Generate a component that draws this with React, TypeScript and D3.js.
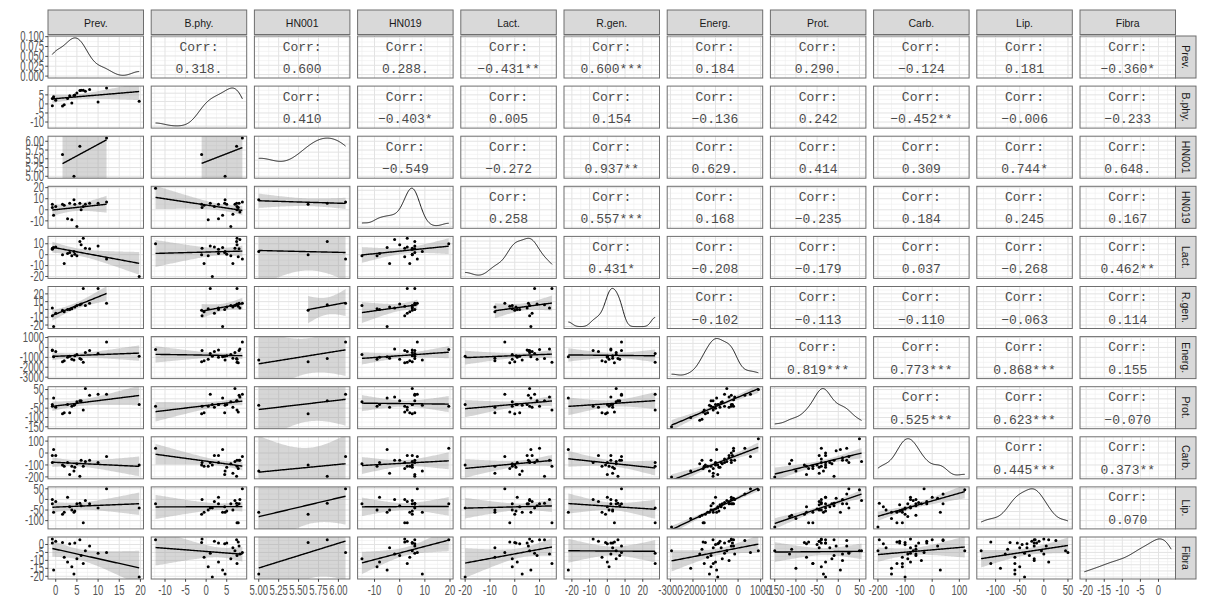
import * as d3 from 'd3';

type V = number | null;

const names = ['Prev.', 'B.phy.', 'HN001', 'HN019', 'Lact.', 'R.gen.', 'Energ.', 'Prot.', 'Carb.', 'Lip.', 'Fibra'];

// one entry per study; null = not reported
const prev: V[] = [-0.8, -0.8, -0.5, 1.6, 2.0, 2.8, 3.3, 3.8, 4.3, 4.5, 5.0, 5.7, 6.0, 6.5, 7.0, 8.0, 10.0, 12.0, 19.7, 0.0,
  null, null, null, null,
  null, null, null, null, null, null, null, null, null, null, null, null, null, null];
const bphy: V[] = [3.0, -1.0, 4.0, -1.1, -0.5, 3.0, 4.5, 0.5, 4.6, 5.0, 6.0, 7.4, 7.5, 7.5, 7.0, 8.0, 1.0, 8.8, 1.5, 2.0,
  -12.3, 6.5, 7.8, 8.2,
  null, null, null, null, null, null, null, null, null, null, null, null, null, null];
const hn001: V[] = [null, null, null, 5.62, null, null, null, null, 5.0, null, null, 5.86, null, null, null, null, null, 6.09, null, null,
  null, null, null, null,
  null, null, null, null, null, null, null, null, null, null, null, null, null, null];
const hn019: V[] = [5, 2, -5, 5, 4, -8, 6, -9, 9, 5, -15, 6, 0, 3, 5, 6, 6, 7, null, 3,
  19.5, -4, 2, -2,
  null, null, null, null, null, null, null, null, null, null, null, null, null, null];
const lact: V[] = [5, 6, 6.5, 0, -8, 1, 2, -1, 3, 0.5, -1, 12, 9, 15, 6, 5.5, 8, -4, -20, 7,
  10, -8, -2, 14,
  null, null, null, null, null, null, null, null, null, null, null, null, null, null];
const rgen: V[] = [2, -8, -22, -1, -3, 0, 0, 1, null, 3, 5, 6, 7, 27, 5, 8, 27, 8, null, -5,
  null, 3, 4, 2,
  null, null, null, null, null, null, null, null, null, null, null, null, null, null];
const energ: V[] = [-250, -300, -950, -1450, -1350, -1000, -900, -1200, -1270, -850, -700, -1110, -1200, -1500, -500, -300, -600, 550, -900, -400,
  -200, -1100, -1550, -150,
  -2950, -2100, -1700, -1600, -1100, -1000, -800, -750, -600, -400, -300, -200, 300, 900];
const prot: V[] = [-30, -40, 5, -80, -75, -30, -75, -40, -35, -30, -15, -10, -10, -60, 55, 20, 25, 25, -30, -45,
  -40, -45, -70, 10,
  -150, -100, -115, -110, -60, -50, -45, -20, -40, 10, -30, -5, 20, 50];
const carb: V[] = [-20, -80, 30, -100, -110, -80, -180, -110, -150, -120, -90, -195, -60, -110, -70, -60, -80, -30, -100, -20,
  40, -170, -130, -60,
  -200, -150, -90, -60, -130, -100, -120, -80, -50, -40, 0, 20, 40, 120];
const lip: V[] = [-20, 0, -60, -70, -60, 10, -35, -50, -60, -55, -20, -18, -30, -110, -5, -20, -40, 50, -40, -10,
  -20, -50, -110, 0,
  -130, -90, -80, -75, -60, -45, -25, -35, -15, -20, 10, 5, 25, 45];
const fibra: V[] = [1, 3.5, -16, 1.3, -8, -11, 0.5, -14, -18.5, 1, -9, 3, -7, -12, -4, -1, -5.5, -5, -20.5, 2,
  3, -2, 1.5, -6,
  -4, -15, -6, -3, -12, 0, 2, -2, 1, -10, 3, -1, 2.5, -4];

const prevTicks = [0, 5, 10, 15, 20];
const bphyTicks = [-10, -5, 0, 5];
const hn001Ticks = [5, 5.25, 5.5, 5.75, 6];
const hn019Ticks = [-10, 0, 10, 20];
const lactTicks = [-20, -10, 0, 10];
const rgenTicks = [-20, -10, 0, 10, 20];
const energTicks = [-3000, -2000, -1000, 0, 1000];
const protTicks = [-150, -100, -50, 0, 50];
const carbTicks = [-200, -100, 0, 100];
const lipTicks = [-100, -50, 0, 50];
const fibraTicks = [-20, -15, -10, -5, 0];
const densityTicks = [0, 0.025, 0.05, 0.075, 0.1];

// upper triangle labels, row i holds columns i+1..10
const corrLabels = [
  ['0.318.', '0.600', '0.288.', '−0.431**', '0.600***', '0.184', '0.290.', '−0.124', '0.181', '−0.360*'],
  ['0.410', '−0.403*', '0.005', '0.154', '−0.136', '0.242', '−0.452**', '−0.006', '−0.233'],
  ['−0.549', '−0.272', '0.937**', '0.629.', '0.414', '0.309', '0.744*', '0.648.'],
  ['0.258', '0.557***', '0.168', '−0.235', '0.184', '0.245', '0.167'],
  ['0.431*', '−0.208', '−0.179', '0.037', '−0.268', '0.462**'],
  ['−0.102', '−0.113', '−0.110', '−0.063', '0.114'],
  ['0.819***', '0.773***', '0.868***', '0.155'],
  ['0.525***', '0.623***', '−0.070'],
  ['0.445***', '0.373**'],
  ['0.070'],
];

const cols = [prev, bphy, hn001, hn019, lact, rgen, energ, prot, carb, lip, fibra];
const ticks = [prevTicks, bphyTicks, hn001Ticks, hn019Ticks, lactTicks, rgenTicks, energTicks, protTicks, carbTicks, lipTicks, fibraTicks];
const digits = [0, 0, 2, 0, 0, 0, 0, 0, 0, 0, 0];

const X0 = 48, DX = 103.2, PW = 95.5;
const Y0 = 36, DY = 50.1, PH = 42;

const expand = (e: number[]) => {
  const r = e[1] - e[0];
  return [e[0] - 0.05 * r, e[1] + 0.05 * r];
};

const minors = (t: number[], dom: number[]) => {
  const step = t[1] - t[0];
  const out: number[] = [];
  for (let v = t[0] - step / 2; v <= t[t.length - 1] + step / 2 + 1e-9; v += step) {
    if (v >= dom[0] && v <= dom[1]) out.push(v);
  }
  return out;
};

function tq(df: number) {
  const z = 1.959964;
  return z + (z ** 3 + z) / (4 * df) + (5 * z ** 5 + 16 * z ** 3 + 3 * z) / (96 * df * df) +
    (3 * z ** 7 + 19 * z ** 5 + 17 * z ** 3 - 15 * z) / (384 * df ** 3);
}

function kde(vals: number[]) {
  const s = vals.slice().sort(d3.ascending);
  const sd = d3.deviation(s) || 1;
  const iqr = (d3.quantileSorted(s, 0.75)! - d3.quantileSorted(s, 0.25)!) / 1.34;
  const bw = 0.9 * Math.min(sd, iqr > 0 ? iqr : sd) * Math.pow(s.length, -0.2);
  const [lo, hi] = d3.extent(s) as number[];
  return d3.range(200).map(k => {
    const x = lo + (hi - lo) * k / 199;
    const d = d3.mean(s, v => Math.exp(-0.5 * ((x - v) / bw) ** 2) / (bw * Math.sqrt(2 * Math.PI)))!;
    return [x, d];
  });
}

function lm(xs: number[], ys: number[]) {
  const n = xs.length;
  const mx = d3.mean(xs)!, my = d3.mean(ys)!;
  let sxx = 0, sxy = 0;
  xs.forEach((x, k) => { sxx += (x - mx) ** 2; sxy += (x - mx) * (ys[k] - my); });
  const b = sxy / sxx, a = my - b * mx;
  let sse = 0;
  xs.forEach((x, k) => { sse += (ys[k] - a - b * x) ** 2; });
  const s = Math.sqrt(sse / Math.max(n - 2, 1));
  const t = tq(Math.max(n - 2, 1));
  const [lo, hi] = d3.extent(xs) as number[];
  return d3.range(80).map(k => {
    const x = lo + (hi - lo) * k / 79;
    const f = a + b * x;
    const se = s * Math.sqrt(1 / n + (x - mx) ** 2 / sxx);
    return { x, f, lo: f - t * se, hi: f + t * se };
  });
}

const axisText = (x: number, y: number, label: string, anchor: string, key: string, central = false) => (
  <text key={key} transform={`translate(${x},${y}) scale(0.95,1.45)`} fontSize={10}
    fontFamily="'Liberation Sans', Arial, sans-serif" fill="#555" textAnchor={anchor}
    dominantBaseline={central ? 'central' : 'auto'}>{label}</text>
);

export default function App() {
  const n = names.length;
  const doms = cols.map(c => expand(d3.extent(c.filter(v => v != null) as number[]) as number[]));
  const xs = doms.map((d, j) => d3.scaleLinear().domain(d).range([X0 + j * DX, X0 + j * DX + PW]));
  const ys = doms.map((d, i) => d3.scaleLinear().domain(d).range([Y0 + i * DY + PH, Y0 + i * DY]));
  const dens = cols.map(c => kde(c.filter(v => v != null) as number[]));
  const dys = dens.map((d, i) => {
    const m = d3.max(d, p => p[1])!;
    return d3.scaleLinear().domain([-0.05 * m, 1.05 * m]).range([Y0 + i * DY + PH, Y0 + i * DY]);
  });

  const panels: any[] = [];
  for (let i = 0; i < n; i++) {
    for (let j = 0; j < n; j++) {
      const left = X0 + j * DX, top = Y0 + i * DY;
      const xsc = xs[j];
      const ysc = i === j ? dys[i] : ys[i];
      const xt = ticks[j].filter(t => t >= doms[j][0] && t <= doms[j][1]);
      const yt = i === j ? (i === 0 ? densityTicks : dys[i].ticks(5)) : ticks[i];
      const ydom = ysc.domain();
      const ytIn = yt.filter(t => t >= ydom[0] && t <= ydom[1]);
      const cid = `clip-${i}-${j}`;
      const content: any[] = [];
      if (i === j) {
        const line = d3.line<number[]>().x(p => xsc(p[0])).y(p => ysc(p[1]));
        content.push(<path key="d" d={line(dens[i])!} fill="none" stroke="#000" strokeWidth={0.9} />);
      } else if (i > j) {
        const pts: number[][] = [];
        cols[j].forEach((v, k) => {
          const w = cols[i][k];
          if (v != null && w != null) pts.push([v, w]);
        });
        if (pts.length >= 3) {
          const fit = lm(pts.map(p => p[0]), pts.map(p => p[1]));
          const area = d3.area<any>().x(p => xsc(p.x)).y0(p => ysc(p.lo)).y1(p => ysc(p.hi));
          const line = d3.line<any>().x(p => xsc(p.x)).y(p => ysc(p.f));
          content.push(<path key="band" d={area(fit)!} fill="#999" fillOpacity={0.4} />);
          content.push(<path key="fit" d={line(fit)!} fill="none" stroke="#000" strokeWidth={1.4} />);
        }
        pts.forEach((p, k) => content.push(<circle key={`p${k}`} cx={xsc(p[0])} cy={ysc(p[1])} r={1.5} fill="#000" />));
      } else {
        const cx = left + PW / 2;
        content.push(
          <text key="t1" x={cx} y={top + 14.5} textAnchor="middle" fontSize={13}
            fontFamily="'Liberation Mono', 'Courier New', monospace" fill="#4a4a4a">Corr:</text>,
          <text key="t2" x={cx} y={top + 37} textAnchor="middle" fontSize={13}
            fontFamily="'Liberation Mono', 'Courier New', monospace" fill="#4a4a4a">{corrLabels[i][j - i - 1]}</text>
        );
      }
      panels.push(
        <g key={cid}>
          <clipPath id={cid}><rect x={left} y={top} width={PW} height={PH} /></clipPath>
          <rect x={left} y={top} width={PW} height={PH} fill="#fff" />
          <g clipPath={`url(#${cid})`}>
            {minors(xt, doms[j]).map((t, k) => <line key={`mx${k}`} x1={xsc(t)} x2={xsc(t)} y1={top} y2={top + PH} stroke="#efefef" strokeWidth={0.6} />)}
            {yt.length > 1 && minors(yt, ydom).map((t, k) => <line key={`my${k}`} x1={left} x2={left + PW} y1={ysc(t)} y2={ysc(t)} stroke="#efefef" strokeWidth={0.6} />)}
            {xt.map((t, k) => <line key={`gx${k}`} x1={xsc(t)} x2={xsc(t)} y1={top} y2={top + PH} stroke="#e3e3e3" strokeWidth={1} />)}
            {ytIn.map((t, k) => <line key={`gy${k}`} x1={left} x2={left + PW} y1={ysc(t)} y2={ysc(t)} stroke="#e3e3e3" strokeWidth={1} />)}
            {content}
          </g>
          <rect x={left} y={top} width={PW} height={PH} fill="none" stroke="#6e6e6e" strokeWidth={1} />
        </g>
      );
    }
  }

  const strips: any[] = [];
  names.forEach((nm, j) => {
    const left = X0 + j * DX;
    strips.push(
      <g key={`st${j}`}>
        <rect x={left} y={10} width={PW} height={24.5} fill="#d9d9d9" stroke="#6e6e6e" strokeWidth={1} />
        <text x={left + PW / 2} y={22.5} textAnchor="middle" dominantBaseline="central" fontSize={10.5}
          fontFamily="'Liberation Sans', Arial, sans-serif" fill="#1a1a1a">{nm}</text>
      </g>
    );
    const top = Y0 + j * DY;
    const sx = X0 + (n - 1) * DX + PW;
    strips.push(
      <g key={`sr${j}`}>
        <rect x={sx} y={top} width={20.5} height={PH} fill="#d9d9d9" stroke="#6e6e6e" strokeWidth={1} />
        <text transform={`translate(${sx + 10.5},${top + PH / 2}) rotate(90)`} textAnchor="middle"
          dominantBaseline="central" fontSize={10.5} fontFamily="'Liberation Sans', Arial, sans-serif"
          fill="#1a1a1a">{nm}</text>
      </g>
    );
  });

  const axes: any[] = [];
  // left axis
  for (let i = 0; i < n; i++) {
    const sc = i === 0 ? dys[0] : ys[i];
    const tv = i === 0 ? densityTicks : ticks[i];
    const dg = i === 0 ? 3 : digits[i];
    tv.forEach((t, k) => {
      const y = sc(t);
      axes.push(<line key={`lt${i}-${k}`} x1={45.2} x2={48} y1={y} y2={y} stroke="#333" strokeWidth={0.9} />);
      axes.push(axisText(44, y, t.toFixed(dg), 'end', `ll${i}-${k}`, true));
    });
  }
  // bottom axis
  const bottom = Y0 + (n - 1) * DY + PH;
  for (let j = 0; j < n; j++) {
    ticks[j].forEach((t, k) => {
      const x = xs[j](t);
      axes.push(<line key={`bt${j}-${k}`} x1={x} x2={x} y1={bottom} y2={bottom + 2.8} stroke="#333" strokeWidth={0.9} />);
      axes.push(axisText(x, bottom + 15.5, t.toFixed(digits[j]), 'middle', `bl${j}-${k}`));
    });
  }

  return (
    <svg width={1207} height={602} style={{ position: 'absolute', left: 0, top: 0, background: '#fff' }}>
      <rect width={1207} height={602} fill="#fff" />
      {strips}
      {panels}
      {axes}
    </svg>
  );
}
